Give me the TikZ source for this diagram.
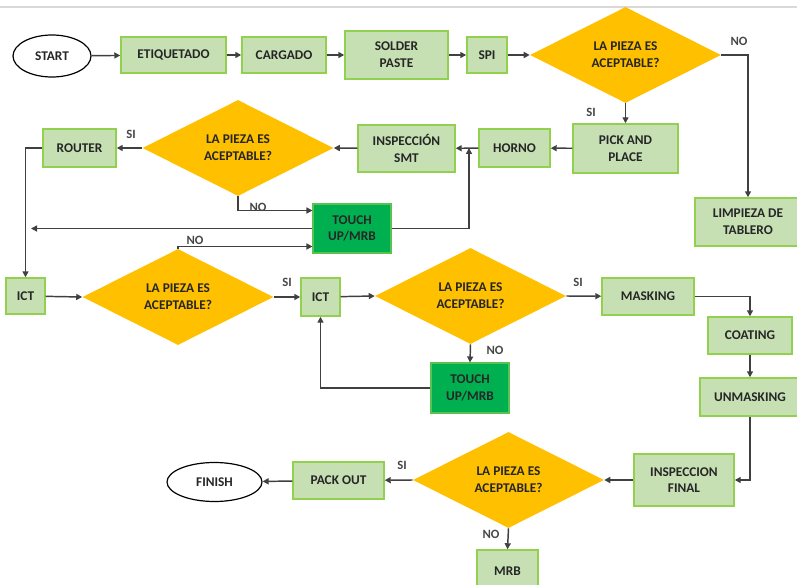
\documentclass[tikz,border=0pt]{standalone}
\usepackage{fontspec}
\setmainfont{Carlito}
\usetikzlibrary{shapes.geometric,arrows.meta,calc}
\definecolor{boxfill}{HTML}{C6E0B4}
\definecolor{boxline}{HTML}{92D050}
\definecolor{darkgreen}{HTML}{00B050}
\definecolor{decision}{HTML}{FFC000}
\definecolor{ink}{HTML}{262626}
\definecolor{wire}{HTML}{404040}
\begin{document}
\begin{tikzpicture}[x=0.75pt,y=-0.75pt,
  txt/.style={font=\fontsize{10}{11.5}\selectfont\bfseries, text=ink, align=center},
  sz/.style 2 args={minimum width=#1*0.75pt, minimum height=#2*0.75pt},
  stepbox/.style={txt, draw=boxline, fill=boxfill, line width=1.1pt, inner sep=0pt},
  fixbox/.style={txt, draw=boxline!60!darkgreen, fill=darkgreen, line width=0.8pt, inner sep=0pt},
  terminal/.style={txt, ellipse, draw=black, line width=0.9pt, inner sep=0pt},
  question/.style={txt, diamond, fill=decision, inner sep=0pt, sz={191}{96}},
  flow/.style={draw=wire, line width=1.1pt, -{Triangle[length=4.5pt,width=4.5pt]}},
  lbl/.style={font=\fontsize{9.5}{11}\selectfont\bfseries, text=ink!85}]
\useasboundingbox (0,0) rectangle (797,585);
\fill[white] (0,0) rectangle (797,585);
\draw[black!15, line width=0.8pt] (0,7) -- (797,7);

% row 1
\node[terminal, sz={78}{42}] (start) at (52,56) {START};
\node[stepbox, sz={105}{36}] (etiq) at (173.5,55) {ETIQUETADO};
\node[stepbox, sz={84}{36}] (carg) at (284,55) {CARGADO};
\node[stepbox, sz={103}{48}] (solder) at (396.5,55) {SOLDER\\[1pt]PASTE};
\node[stepbox, sz={40}{36}] (spi) at (487,55) {SPI};
\node[question] (q1) at (625.5,55) {LA PIEZA ES\\[1pt]ACEPTABLE?};
\node[stepbox, sz={106}{48}] (limp) at (748,222) {LIMPIEZA DE\\[1pt]TABLERO};

% row 2
\node[stepbox, sz={105}{49}] (pick) at (625.5,148.5) {PICK AND\\[1pt]PLACE};
\node[stepbox, sz={71}{38}] (horno) at (514.5,148) {HORNO};
\node[stepbox, sz={97}{47}] (insp) at (406.5,148.5) {INSPECCIÓN\\[1pt]SMT};
\node[question] (q2) at (238,148) {LA PIEZA ES\\[1pt]ACEPTABLE?};
\node[stepbox, sz={73}{38}] (router) at (79.5,148) {ROUTER};
\node[fixbox, sz={78}{49}] (fix1) at (352,228.5) {TOUCH\\[1pt]UP/MRB};
\coordinate (join1) at (469,148);
\coordinate (back1) at (31,228.5);

% row 3
\node[stepbox, sz={39}{36}] (ict1) at (25.5,296) {ICT};
\node[question] (q3) at (178,297) {LA PIEZA ES\\[1pt]ACEPTABLE?};
\node[stepbox, sz={39}{38}] (ict2) at (320.5,297) {ICT};
\node[question] (q4) at (470.5,296) {LA PIEZA ES\\[1pt]ACEPTABLE?};
\node[fixbox, sz={78}{50}] (fix2) at (470,388) {TOUCH\\[1pt]UP/MRB};
\node[stepbox, sz={92}{37}] (mask) at (648,296.5) {MASKING};
\node[stepbox, sz={84}{37}] (coat) at (750,335.5) {COATING};
\node[stepbox, sz={100}{38}] (unmask) at (750,397) {UNMASKING};

% row 4
\node[stepbox, sz={100}{52}] (final) at (684,480) {INSPECCION\\[1pt]FINAL};
\node[question] (q5) at (508.5,480) {LA PIEZA ES\\[1pt]ACEPTABLE?};
\node[stepbox, sz={91}{37}] (pack) at (338.5,480.5) {PACK OUT};
\node[terminal, sz={95}{39}] (finish) at (214.5,482) {FINISH};
\node[stepbox, sz={61}{42}] (mrb) at (507.5,571) {MRB};

% main line, row 1
\draw[flow] (start) -- (etiq);
\draw[flow] (etiq) -- (carg);
\draw[flow] (carg) -- (solder);
\draw[flow] (solder) -- (spi);
\draw[flow] (spi) -- (q1);
\draw[flow] (q1.east) -| (limp.north);
\draw[flow] (q1.south) -- (pick.north);

% row 2
\draw[flow] (pick) -- (horno);
\draw[flow] (horno) -- (insp);
\draw[flow] (insp) -- (q2.east);
\draw[flow] (q2.west) -- (router);
\draw[flow] (q2.south) |- ($(fix1.west)+(0,-18)$);
\draw[flow] (fix1.east) -| (join1);
\draw[flow] (fix1.west) -- (back1);
\draw[flow] (router.west) -| (ict1.north);

% row 3
\draw[flow] (ict1) -- (q3.west);
\draw[flow] (q3.north) |- ($(fix1.west)+(0,18)$);
\draw[flow] (q3.east) -- (ict2);
\draw[flow] (ict2) -- (q4.west);
\draw[flow] (q4.south) -- (fix2.north);
\draw[flow] (fix2.west) -| (ict2.south);
\draw[flow] (q4.east) -- (mask);
\draw[flow] (mask.east) -| (coat.north);
\draw[flow] (coat) -- (unmask);
\draw[flow] (unmask.south) |- (final.east);

% row 4
\draw[flow] (final) -- (q5.east);
\draw[flow] (q5.west) -- (pack);
\draw[flow] (pack) -- (finish);
\draw[flow] (q5.south) -- (mrb.north);

% branch labels
\node[lbl] at (739,41) {NO};
\node[lbl] at (591,112) {SI};
\node[lbl] at (131,134) {SI};
\node[lbl] at (258,207) {NO};
\node[lbl] at (195,240) {NO};
\node[lbl] at (287,282) {SI};
\node[lbl] at (578,282) {SI};
\node[lbl] at (495,350) {NO};
\node[lbl] at (402,465) {SI};
\node[lbl] at (491,534) {NO};
\end{tikzpicture}
\end{document}
